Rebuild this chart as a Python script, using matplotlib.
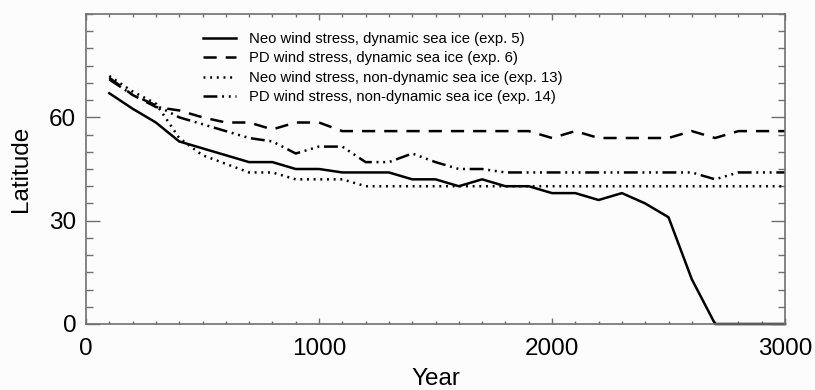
import matplotlib
matplotlib.use("Agg")
import matplotlib.pyplot as plt
from matplotlib.ticker import MultipleLocator

plt.rcParams['font.family'] = ['Liberation Sans', 'DejaVu Sans']
plt.rcParams['lines.scale_dashes'] = False

years = list(range(100, 3001, 100))

# ice edge latitude for each run
neo_dyn = [67, 62.5, 58.5, 53, 51, 49, 47, 47, 45, 45,
           44, 44, 44, 42, 42, 40, 42, 40, 40, 38,
           38, 36, 38, 35, 31, 13, 0, 0, 0, 0]
pd_dyn = [71.5, 66.5, 63, 62, 60, 58.5, 58.5, 56.5, 58.5, 58.5,
          56, 56, 56, 56, 56, 56, 56, 56, 56, 54,
          56, 54, 54, 54, 54, 56, 54, 56, 56, 56]
neo_nodyn = [72, 67.5, 64, 54, 49, 46.5, 44, 44, 42, 42,
             42, 40, 40, 40, 40, 40, 40, 40, 40, 40,
             40, 40, 40, 40, 40, 40, 40, 40, 40, 40]
pd_nodyn = [71, 66.5, 63.5, 60, 58, 56, 54, 53, 49.5, 51.5,
            51.5, 47, 47, 49.5, 47, 45, 45, 44, 44, 44,
            44, 44, 44, 44, 44, 44, 42, 44, 44, 44]

labels = ["Neo wind stress, dynamic sea ice (exp. 5)",
          "PD wind stress, dynamic sea ice (exp. 6)",
          "Neo wind stress, non-dynamic sea ice (exp. 13)",
          "PD wind stress, non-dynamic sea ice (exp. 14)"]

fig = plt.figure(figsize=(8.15, 3.9), dpi=100, facecolor='#fcfcfc')
ax = fig.add_axes([86/815, 1 - 324/390, 699/815, 310/390])
ax.set_facecolor('#fcfcfc')

lw = 1.8
ax.plot(years, neo_dyn, color='black', lw=lw, label=labels[0], clip_on=False)
ax.plot(years, pd_dyn, color='black', lw=lw, dashes=(9.5, 6.5), label=labels[1])
ax.plot(years, neo_nodyn, color='black', lw=lw, dashes=(1.4, 3.4), label=labels[2])
ax.plot(years, pd_nodyn, color='black', lw=lw,
        dashes=(10, 3.4, 1.4, 3.4, 1.4, 3.4, 1.4, 3.4), label=labels[3])

ax.set_xlim(0, 3000)
ax.set_ylim(0, 90)
ax.xaxis.set_major_locator(MultipleLocator(1000))
ax.xaxis.set_minor_locator(MultipleLocator(100))
ax.yaxis.set_major_locator(MultipleLocator(30))
ax.yaxis.set_minor_locator(MultipleLocator(5))
ax.set_yticks([0, 30, 60])

frame = '#707070'
for s in ax.spines.values():
    s.set_color(frame)
    s.set_linewidth(1.2)
ax.tick_params(axis='both', which='both', direction='in', top=True, right=True,
               color=frame, width=1.0, labelsize=17.5)
ax.tick_params(axis='x', which='major', length=4.4, pad=10)
ax.tick_params(axis='x', which='minor', length=2.2)
ax.tick_params(axis='y', which='major', length=10, pad=7)
ax.tick_params(axis='y', which='minor', length=5)

ax.set_xlabel("Year", fontsize=17.5, labelpad=6)
ax.set_ylabel("Latitude", fontsize=17.5, labelpad=12)

ax.legend(loc='upper left', bbox_to_anchor=(0.167, 0.942), frameon=False,
          fontsize=10.7, handlelength=2.25, handletextpad=0.85,
          labelspacing=0.37, borderaxespad=0, borderpad=0)

fig.savefig("out.png", dpi=100, facecolor=fig.get_facecolor())
